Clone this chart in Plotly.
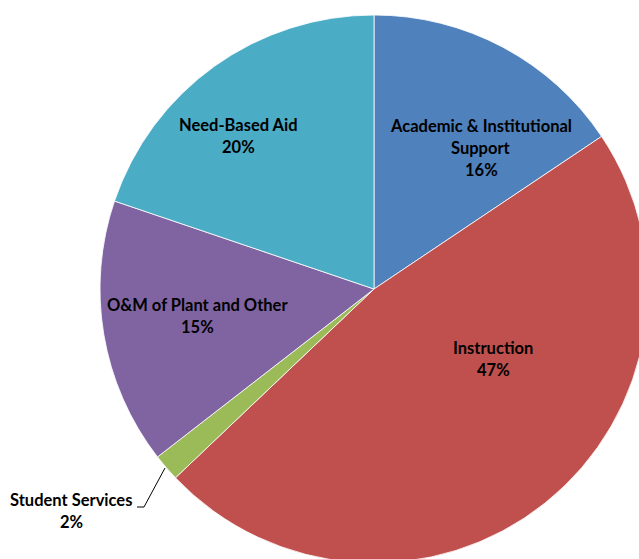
import plotly.graph_objects as go

# Data (clockwise from 12 o'clock)
categories = ["Academic & Institutional Support", "Instruction", "Student Services",
              "O&M of Plant and Other", "Need-Based Aid"]
values = [15.6, 47.3, 1.6, 15.7, 19.8]
pct_labels = ["16%", "47%", "2%", "15%", "20%"]
label_lines = [["Academic & Institutional", "Support"], ["Instruction"], ["Student Services"],
               ["O&M of Plant and Other"], ["Need-Based Aid"]]
colors = ["#4F81BD", "#C0504D", "#9BBB59", "#8064A2", "#4BACC6"]

W, H = 660, 580
# label block centers in pixels
label_pos = [(481, 148), (493, 359), (71, 511), (197, 316), (238, 136)]
LINE = 22

def px(x):
    return x / W

def py(y):
    return 1 - y / H

fig = go.Figure(go.Pie(
    labels=categories, values=values, sort=False, direction="clockwise", rotation=0,
    marker=dict(colors=colors, line=dict(color="rgba(255,255,255,0.8)", width=1)),
    textinfo="none", hoverinfo="label+percent", showlegend=False,
    domain=dict(x=[100 / W, 648 / W], y=[py(563), py(15)]),
))

annotations = []
for lines, pct, (cx, cy) in zip(label_lines, pct_labels, label_pos):
    all_lines = lines + [pct]
    n = len(all_lines)
    for i, t in enumerate(all_lines):
        yy = cy + (i - (n - 1) / 2) * LINE
        annotations.append(dict(
            x=px(cx), y=py(yy), xref="paper", yref="paper", text="<b>" + t + "</b>",
            showarrow=False, xanchor="center", yanchor="middle",
            font=dict(family="Lato, Liberation Sans, sans-serif", size=16.5, color="#000000"),
        ))

fig.update_layout(
    width=W, height=H, autosize=False,
    margin=dict(l=0, r=0, t=0, b=0),
    paper_bgcolor="white", plot_bgcolor="white",
    annotations=annotations,
    shapes=[dict(type="path", xref="paper", yref="paper",
                 path=f"M {px(137)},{py(507)} L {px(144)},{py(507)} L {px(165)},{py(468)}",
                 line=dict(color="#000000", width=1))],
)

fig.write_html("out.html", config={"displayModeBar": False},
               post_script="document.body.style.margin='0';document.body.style.overflow='hidden';document.documentElement.style.overflow='hidden';")
